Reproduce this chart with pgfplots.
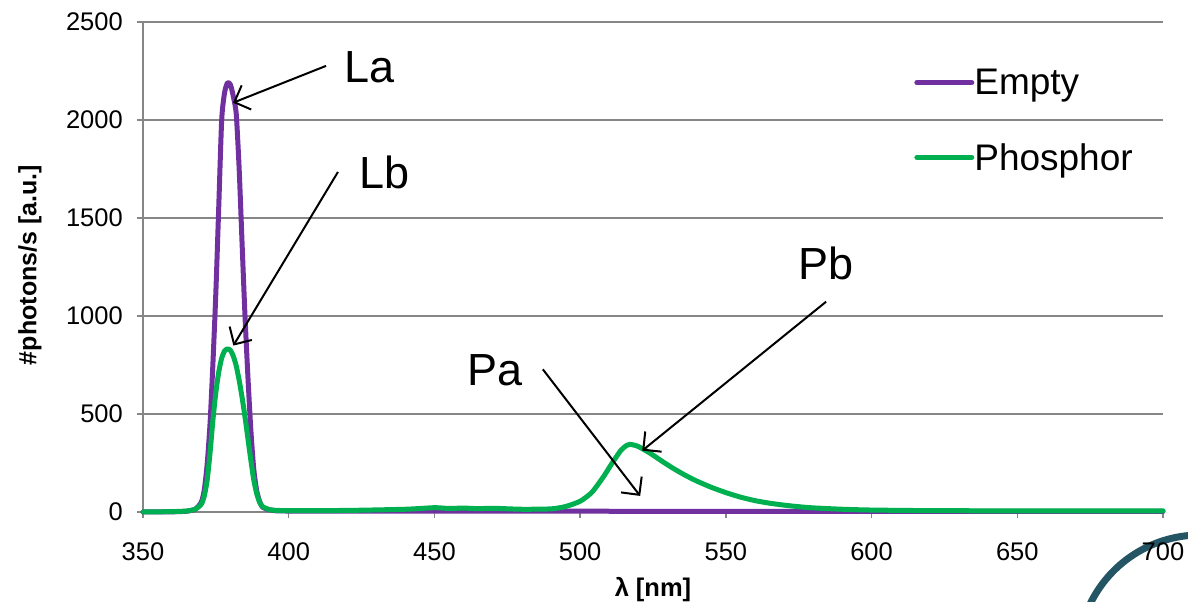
\documentclass[border=0pt]{standalone}
\usepackage{fontspec}
\setmainfont{Liberation Sans}
\usepackage{pgfplots}
\pgfplotsset{compat=1.18}
\usetikzlibrary{arrows.meta}
\definecolor{emptyc}{HTML}{7030A0}
\definecolor{phosc}{HTML}{00B050}
\definecolor{gridgray}{HTML}{868686}
\definecolor{arcc}{RGB}{35,85,100}

\pgfplotstableread{
x y
350 0
360 1
365 4
368 15
370 50
371 110
372 240
373 450
374 760
375 1120
376 1560
377 2000
378 2140
379 2190
380 2180
381 2120
382 2030
383 1750
384 1370
385 1000
386 690
387 420
388 220
389 110
390 55
391 25
393 12
395 8
400 5
450 4
500 4
550 3
600 3
650 3
700 3
}\emptytab

\pgfplotstableread{
x y
350 0
360 2
365 5
368 15
370 40
371 80
372 160
373 300
374 470
375 610
376 715
377 785
378 822
379 832
380 825
381 795
382 745
383 672
384 585
385 485
386 375
387 265
388 165
389 95
390 50
391 28
393 14
395 9
400 7
420 8
440 14
450 22
455 18
460 20
465 17
470 19
480 14
490 16
495 28
500 55
504 100
508 180
511 250
514 315
516 340
517 345
518 343
520 334
524 300
528 260
532 222
536 188
540 158
545 126
550 99
555 76
560 58
565 45
570 35
575 27
580 21
590 14
600 10
620 7
650 6
700 6
}\phostab

\begin{document}
\begin{tikzpicture}
\useasboundingbox (-143pt,-90pt) rectangle (1045pt,490pt+22pt);
\draw[arcc, line width=7pt] (1057pt,-145pt) ++(95:122pt) arc[start angle=95, end angle=160, radius=122pt];
\begin{axis}[
  name=ax, at={(0pt,0pt)}, anchor=south west,
  scale only axis, width=1020pt, height=490pt,
  xmin=350, xmax=700, ymin=0, ymax=2500,
  xtick={350,400,...,700}, ytick={0,500,...,2500},
  axis lines=left, axis line style={-, gridgray, line width=1.5pt},
  ymajorgrids, grid style={gridgray, line width=1.5pt},
  tick align=outside, major tick length=6pt,
  tick style={gridgray, line width=1.5pt},
  ticklabel style={font=\fontsize{25.5}{30}\selectfont},
  xticklabel style={inner sep=0pt, yshift=-24pt},
  yticklabel style={inner sep=0pt, xshift=-14pt},
  /pgf/number format/assume math mode=true,
  /pgf/number format/1000 sep={},
  xlabel={λ [nm]}, ylabel={\#photons/s [a.u.]},
  every axis x label/.style={at={(axis description cs:0.5,-0.159)}, anchor=center, font=\fontsize{25.5}{30}\selectfont\bfseries},
  every axis y label/.style={at={(axis description cs:-0.1108,0.504)}, anchor=center, rotate=90, font=\fontsize{25}{30}\selectfont\bfseries},
  clip=false,
  legend style={draw=none, fill=none, at={(axis description cs:0.756,0.904)}, anchor=north west,
    font=\fontsize{37}{40}\selectfont, row sep=47pt, inner sep=0pt, nodes={inner sep=0pt}, column sep=0pt},
  legend cell align=left,
  legend image code/.code={\draw[#1] (0pt,0pt) -- (55pt,0pt);},
]
\addplot[emptyc, line width=5pt, line cap=round, line join=round, smooth, tension=0.4] table[x=x,y=y] {\emptytab};
\addlegendentry{Empty}
\addplot[phosc, line width=5pt, line cap=round, line join=round, smooth, tension=0.4] table[x=x,y=y] {\phostab};
\addlegendentry{Phosphor}

\tikzset{annot/.style={font=\fontsize{45}{50}\selectfont, inner sep=0pt},
  arr/.style={line width=2pt, -{Straight Barb[length=13pt,width=26pt,line width=2pt]}}}
\node[annot] at (axis cs:427.6,2268) {La};
\node[annot] at (axis cs:433.0,1732) {Lb};
\node[annot] at (axis cs:470.8,724) {Pa};
\node[annot] at (axis cs:584.4,1268) {Pb};
\draw[arr] (axis cs:412.8,2276) -- (axis cs:380.9,2088);
\draw[arr] (axis cs:416.9,1735) -- (axis cs:381.0,849);
\draw[arr] (axis cs:487.2,728) -- (axis cs:520.6,82);
\draw[arr] (axis cs:584.4,1073) -- (axis cs:521.3,313);
\end{axis}
\end{tikzpicture}
\end{document}
